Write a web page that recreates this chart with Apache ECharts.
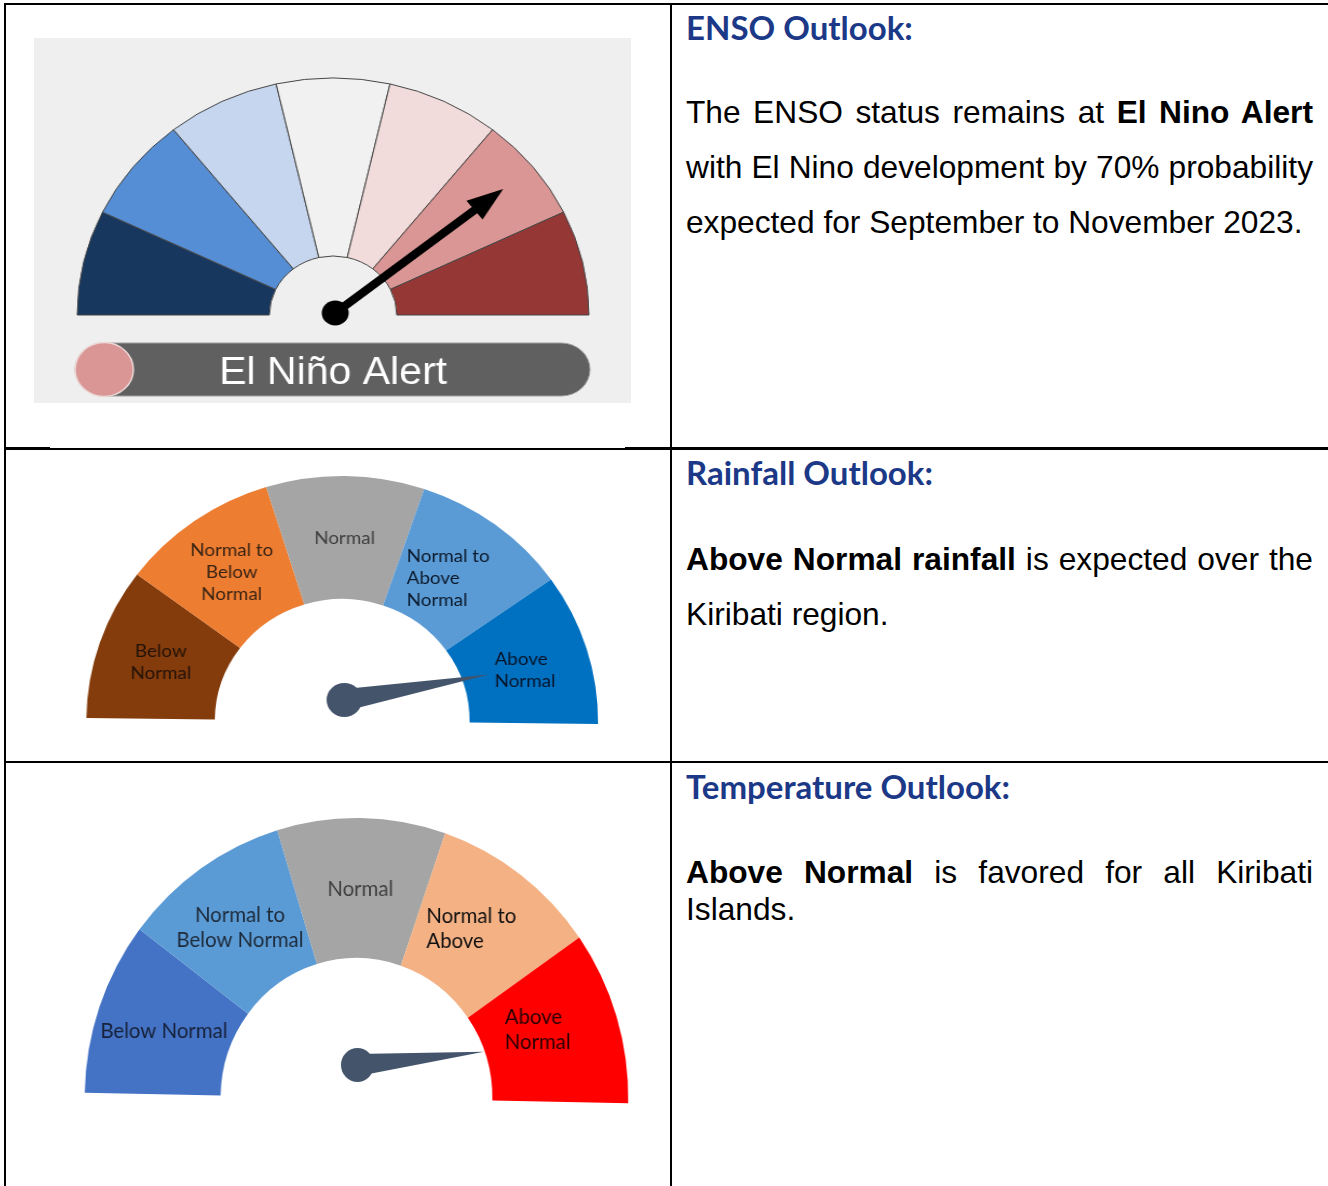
<!DOCTYPE html>
<html>
<head>
<meta charset="utf-8">
<script src="https://cdn.jsdelivr.net/npm/echarts@6/dist/echarts.min.js"></script>
<style>
html, body { margin: 0; padding: 0; background: #fff; }
body { width: 1328px; height: 1186px; position: relative; overflow: hidden; }
.rule { position: absolute; background: #000; }
.head {
    position: absolute; left: 686px; white-space: nowrap;
    font-family: Lato; font-weight: bold; font-size: 33px; line-height: 40px; color: #1c3988;
}
.txt {
    position: absolute; left: 686px; width: 627px;
    font-family: "Liberation Sans", Arial, sans-serif; font-size: 31.7px; color: #000;
}
.txt div { height: 55px; line-height: 55px; text-align: justify; text-align-last: justify; }
.txt.tight div { height: 37px; line-height: 37px; }
.txt div.last { text-align-last: left; }
.box { position: absolute; overflow: hidden; }
.box > div { transform-origin: 0 0; }
#ensoBox { left: 34px; top: 38px; width: 597px; height: 365px; background: #efefef; }
#enso { width: 553px; height: 365px; transform: scaleX(1.0796); }
#rainBox { left: 7px; top: 451px; width: 662px; height: 309px; }
#rain { width: 634px; height: 309px; transform: scaleX(1.0442); }
#tempBox { left: 7px; top: 764px; width: 662px; height: 422px; }
#temp { width: 682px; height: 422px; transform: scaleX(0.9707); }
</style>
</head>
<body>
<div class="rule" style="left:4px;top:3px;width:1324px;height:2px"></div>
<div class="rule" style="left:4px;top:3px;width:2px;height:1183px"></div>
<div class="rule" style="left:670px;top:3px;width:2px;height:1183px"></div>
<div class="rule" style="left:4px;top:447px;width:46px;height:3px"></div>
<div class="rule" style="left:50px;top:448px;width:575px;height:2px"></div>
<div class="rule" style="left:625px;top:447px;width:703px;height:3px"></div>
<div class="rule" style="left:4px;top:761px;width:1324px;height:2px"></div>

<div class="box" id="ensoBox"><div id="enso"></div></div>
<div class="box" id="rainBox"><div id="rain"></div></div>
<div class="box" id="tempBox"><div id="temp"></div></div>

<div class="head" style="top:7px">ENSO Outlook:</div>
<div class="txt" style="top:85px">
    <div>The ENSO status remains at <b>El Nino Alert</b></div>
    <div>with El Nino development by 70% probability</div>
    <div class="last">expected for September to November 2023.</div>
</div>

<div class="head" style="top:452px">Rainfall Outlook:</div>
<div class="txt" style="top:532px">
    <div><b>Above Normal rainfall</b> is expected over the</div>
    <div class="last">Kiribati region.</div>
</div>

<div class="head" style="top:766px">Temperature Outlook:</div>
<div class="txt tight" style="top:854px">
    <div><b>Above Normal</b> is favored for all Kiribati</div>
    <div class="last">Islands.</div>
</div>

<script>
// ENSO dial: 7 equal stages, needle on a 0-7 scale
const ensoStages = ['La Niña', 'La Niña Alert', 'La Niña Watch', 'Inactive', 'El Niño Watch', 'El Niño Alert', 'El Niño'];
const ensoShares = [1, 1, 1, 1, 1, 1, 1];
const ensoValue = 5.5;
const ensoStatus = 'El Niño Alert';

// rainfall dial: 5 equal categories, needle on a 0-5 scale
const rainCategories = ['Below\nNormal', 'Normal to\nBelow\nNormal', 'Normal', 'Normal to\nAbove\nNormal', 'Above\nNormal'];
const rainShares = [1, 1, 1, 1, 1];
const rainValue = 4.71;

// temperature dial
const tempCategories = ['Below Normal', 'Normal to\nBelow Normal', 'Normal', 'Normal to\nAbove', 'Above\nNormal'];
const tempShares = [1, 1, 1, 1, 1];
const tempValue = 4.84;

// colours
const ensoColors = ['#17375e', '#558ed5', '#c5d6ee', '#f1f1f1', '#f2dcdb', '#d99694', '#953735'];
const rainColors = ['#843c0c', '#ed7d31', '#a5a5a5', '#5b9bd5', '#0070c0'];
const rainText = ['#231208', '#3a2414', '#404040', '#0c1a2c', '#07152a'];
const tempColors = ['#4472c4', '#5b9bd5', '#a5a5a5', '#f4b183', '#ff0000'];
const tempText = ['#17223a', '#1d2a3a', '#404040', '#111111', '#2a0000'];

function pointerGauge(center, length, width, max, value, icon, anchorSize, color) {
    return {
        type: 'gauge',
        z: 5,
        center: center,
        radius: length,
        startAngle: 180,
        endAngle: 0,
        min: 0,
        max: max,
        silent: true,
        axisLine: { show: false },
        splitLine: { show: false },
        axisTick: { show: false },
        axisLabel: { show: false },
        progress: { show: false },
        pointer: { icon: icon, length: length, width: width, itemStyle: { color: color } },
        anchor: { show: true, showAbove: true, size: anchorSize, itemStyle: { color: color } },
        title: { show: false },
        detail: { show: false },
        data: [{ value: value }]
    };
}

function bandData(names, shares, colors, textColors, fontSize, lineHeight, leftAligned, offsets) {
    return names.map((name, i) => {
        const item = { name: name, value: shares[i], itemStyle: { color: colors[i] } };
        const base = { fontFamily: 'Lato', fontSize: fontSize, lineHeight: lineHeight, color: textColors[i] };
        if (leftAligned[i]) {
            item.label = {
                formatter: name.split('\n').map(l => '{l|' + l + '}').join('\n'),
                offset: offsets[i],
                rich: { l: Object.assign({ align: 'left' }, base) }
            };
        } else {
            item.label = Object.assign({ formatter: name, offset: offsets[i] }, base);
        }
        return item;
    });
}

// ---- ENSO ----
const ensoChart = echarts.init(document.getElementById('enso'));
const arrow = 'path://M12,0 L24,34 L16,34 L16,199 L8,199 L8,34 L0,34 Z';
ensoChart.setOption({
    animation: false,
    series: [
        {
            type: 'pie',
            center: [277, 277],
            radius: [59, 237],
            startAngle: 180,
            endAngle: 0,
            silent: true,
            label: { show: false },
            labelLine: { show: false },
            itemStyle: { borderColor: '#454545', borderWidth: 1 },
            data: ensoStages.map((name, i) => ({ name: name, value: ensoShares[i], itemStyle: { color: ensoColors[i] } }))
        },
        pointerGauge([279, 275], 199, 24, ensoStages.length, ensoValue, arrow, 25, '#000')
    ],
    graphic: [
        {
            type: 'rect',
            shape: { x: 38, y: 305, width: 477, height: 53, r: 26.5 },
            style: { fill: '#606060', stroke: '#a0a0a0', lineWidth: 1 }
        },
        {
            type: 'circle',
            shape: { cx: 65, cy: 331.5, r: 27 },
            style: { fill: '#d99694', stroke: '#ecd8d7', lineWidth: 1.5 }
        },
        {
            type: 'text',
            x: 277,
            y: 336,
            style: {
                text: ensoStatus, fill: '#fff', align: 'center', verticalAlign: 'middle',
                font: '38px "Liberation Sans", Arial, sans-serif'
            }
        }
    ]
});

// ---- Rainfall ----
const needle = 'path://M0,140 L11,0 L22,140 Z';
const rainChart = echarts.init(document.getElementById('rain'));
rainChart.setOption({
    animation: false,
    series: [
        {
            type: 'pie',
            center: [321, 270],
            radius: [122, 245],
            startAngle: 179.3,
            endAngle: -0.7,
            silent: true,
            avoidLabelOverlap: false,
            label: { show: true, position: 'inside' },
            labelLine: { show: false },
            data: bandData(rainCategories, rainShares, rainColors, rainText, 18, 22,
                [false, false, false, true, true], [[3, 1], [2, 3], [0, 4], [-10, 7], [-3, 5]])
        },
        pointerGauge([323, 249], 141, 22, rainCategories.length, rainValue, needle, 34, '#44546a')
    ]
});

// ---- Temperature ----
const tempChart = echarts.init(document.getElementById('temp'));
tempChart.setOption({
    animation: false,
    series: [
        {
            type: 'pie',
            center: [360, 334],
            radius: [140, 280],
            startAngle: 178.95,
            endAngle: -1.05,
            silent: true,
            avoidLabelOverlap: false,
            label: { show: true, position: 'inside' },
            labelLine: { show: false },
            data: bandData(tempCategories, tempShares, tempColors, tempText, 21, 25,
                [false, false, false, true, true], [[3, 3], [2, 4], [0, 4], [-10, 1], [-17, -6]])
        },
        pointerGauge([361, 301], 131, 22, tempCategories.length, tempValue, needle, 34, '#44546a')
    ]
});
</script>
</body>
</html>
